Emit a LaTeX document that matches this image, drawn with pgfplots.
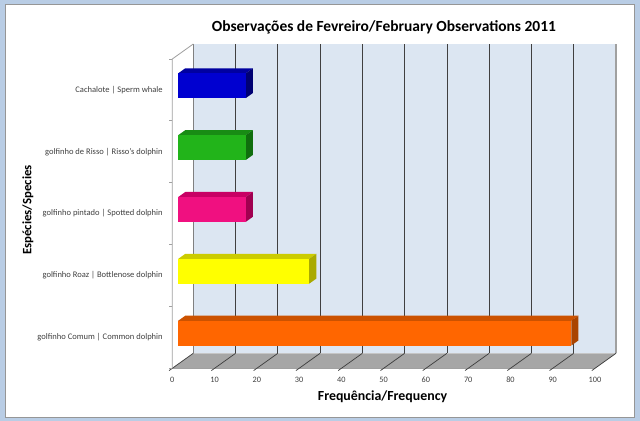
\documentclass[border=0pt]{standalone}
\usepackage{fontspec}
\setmainfont{Carlito}
\usepackage{pgfplots}
\pgfplotsset{compat=1.18}
\definecolor{frameblue}{RGB}{185,205,229}
\definecolor{frameline}{RGB}{150,150,150}
\definecolor{wall}{RGB}{220,230,242}
\definecolor{floorc}{RGB}{166,166,166}
\definecolor{gridc}{RGB}{64,64,64}
\definecolor{edgec}{RGB}{160,160,160}
\definecolor{txt}{RGB}{64,64,64}
\definecolor{bF}{RGB}{0,0,208}\definecolor{bT}{RGB}{0,0,160}\definecolor{bS}{RGB}{0,0,115}
\definecolor{gF}{RGB}{34,180,26}\definecolor{gT}{RGB}{24,140,20}\definecolor{gS}{RGB}{16,110,14}
\definecolor{pF}{RGB}{240,16,128}\definecolor{pT}{RGB}{200,0,100}\definecolor{pS}{RGB}{160,0,80}
\definecolor{yF}{RGB}{255,255,0}\definecolor{yT}{RGB}{204,204,0}\definecolor{yS}{RGB}{170,170,0}
\definecolor{oF}{RGB}{255,102,0}\definecolor{oT}{RGB}{204,82,0}\definecolor{oS}{RGB}{170,68,0}
% value, category centre, front, top, side colour
\newcommand\barthreed[5]{%
  \pgfmathsetmacro\ya{#2+0.2}%
  \pgfmathsetmacro\yb{#2-0.2}%
  \pgfmathsetmacro\yc{#2+0.2824}%
  \pgfmathsetmacro\yd{#2-0.1176}%
  \pgfmathsetmacro\xr{#1+1.689}%
  \edef\tmp{\noexpand\addplot[forget plot, fill=#4, draw=none] coordinates {(0,\ya) (#1,\ya) (\xr,\yc) (1.689,\yc)};}\tmp
  \edef\tmp{\noexpand\addplot[forget plot, fill=#5, draw=none] coordinates {(#1,\yb) (#1,\ya) (\xr,\yc) (\xr,\yd)};}\tmp
  \addplot[forget plot, xbar, bar width=0.4, bar shift=0pt, fill=#3, draw=none] coordinates {(#1,#2)};
}
\begin{document}
\begin{tikzpicture}
% chart frame (1px = 0.75pt, axis-plane origin at px (178.18,364.1))
\fill[frameblue] (-133.635pt,-42.675pt) rectangle (346.365pt,273.075pt);
\filldraw[fill=white, draw=frameline, line width=0.6pt] (-129.885pt,-39.675pt) rectangle (342.115pt,270.075pt);
\begin{axis}[
  at={(0pt,0pt)}, anchor=south west,
  width=317.03pt, height=231.98pt, scale only axis,
  xmin=0, xmax=100, ymin=0, ymax=5,
  enlargelimits=false, clip=false,
  axis line style={draw=none}, tick style={draw=none},
  xtick={0,10,...,100},
  ytick={0.5,1.5,2.5,3.5,4.5},
  yticklabels={golfinho Comum | Common dolphin, golfinho Roaz | Bottlenose dolphin, golfinho pintado | Spotted dolphin, golfinho de Risso | Risso’s dolphin, Cachalote | Sperm whale},
  /pgf/number format/assume math mode=true,
  xticklabel style={font=\fontsize{6.2}{7}\selectfont, text=txt, anchor=base, inner sep=0pt, xshift=-4.41pt, yshift=-13.65pt},
  yticklabel style={font=\fontsize{6.4}{7.5}\selectfont, text=txt, anchor=east, inner sep=0pt, xshift=-11.4pt, yshift=-3.15pt},
  xlabel={Frequência/Frequency},
  xlabel style={at={(axis description cs:0.4834,-0.1161)}, anchor=base, font=\bfseries\fontsize{10.4}{12}\selectfont, inner sep=0pt},
  ylabel={Espécies/Species},
  ylabel style={at={(axis description cs:-0.347,0.498)}, anchor=base, font=\bfseries\fontsize{9.6}{11}\selectfont, inner sep=0pt},
  every axis title shift=0pt,
  title={Observações de Fevreiro/February Observations 2011},
  title style={at={(axis description cs:0.4867,1.0747)}, anchor=base, font=\bfseries\fontsize{11.6}{13}\selectfont, inner sep=0pt},
]
% back wall
\fill[wall] (axis cs:3.577,0.1746) rectangle (axis cs:103.577,5.1746);
\pgfplotsinvokeforeach{10,20,...,100}{
  \draw[gridc, line width=0.55pt] (axis cs:#1+3.577,0.1746) -- (axis cs:#1+3.577,5.1746);
}
\draw[edgec!80!black, line width=0.6pt] (axis cs:3.577,0.1746) -- (axis cs:3.577,5.1746);
\draw[edgec, line width=0.9pt] (axis cs:103.577,0.1746) -- (axis cs:103.577,5.1746);
% floor
\fill[floorc] (axis cs:-1.391,-0.0679) -- (axis cs:98.609,-0.0679) -- (axis cs:103.577,0.1746) -- (axis cs:3.577,0.1746) -- cycle;
\draw[edgec, line width=0.5pt] (axis cs:-1.391,-0.0679) -- (axis cs:98.609,-0.0679);
\pgfplotsinvokeforeach{0,10,...,100}{
  \draw[gridc, line width=0.55pt] (axis cs:#1-2.136,-0.1043) -- (axis cs:#1+3.577,0.1746);
}
% left wall
\draw[edgec, line width=0.6pt] (axis cs:-1.391,-0.0679) -- (axis cs:-1.391,4.9321) -- (axis cs:3.577,5.1746);
\pgfplotsinvokeforeach{0,1,2,3,4,5}{
  \draw[edgec, line width=0.6pt] (axis cs:-1.391,#1-0.0679) -- (axis cs:-2.2,#1-0.0679);
}
% bars
\barthreed{93}{0.5}{oF}{oT}{oS}
\barthreed{31}{1.5}{yF}{yT}{yS}
\barthreed{16}{2.5}{pF}{pT}{pS}
\barthreed{16}{3.5}{gF}{gT}{gS}
\barthreed{16}{4.5}{bF}{bT}{bS}
\end{axis}
\end{tikzpicture}
\end{document}
